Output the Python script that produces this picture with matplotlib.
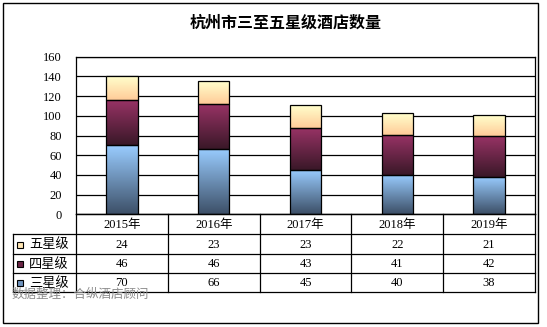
import matplotlib
matplotlib.use("Agg")
import matplotlib.pyplot as plt
import numpy as np
from matplotlib.colors import LinearSegmentedColormap
from matplotlib.patches import Rectangle

plt.rcParams['font.family'] = ['Liberation Serif', 'Noto Sans CJK SC', 'DejaVu Sans']

years = ['2015年', '2016年', '2017年', '2018年', '2019年']
three_star = [70, 66, 45, 40, 38]
four_star = [46, 46, 43, 41, 42]
five_star = [24, 23, 23, 22, 21]
series_names = ['五星级', '四星级', '三星级']
yticks = [0, 20, 40, 60, 80, 100, 120, 140, 160]

# (bottom color, top color) for each series
grad = {
    '三星级': ('#3d5068', '#99ccff'),
    '四星级': ('#3a1828', '#993366'),
    '五星级': ('#ffcc99', '#ffffcc'),
}
swatch = {'五星级': '#ffe6b3', '四星级': '#6a2545', '三星级': '#6f93bd'}

W, H = 547, 327
fig = plt.figure(figsize=(W / 100, H / 100), dpi=100)

# pixel layout
pl, pr, pt, pb = 76, 535, 56.7, 214.3
ax = fig.add_axes([pl / W, 1 - pb / H, (pr - pl) / W, (pb - pt) / H])
ax.set_xlim(-0.5, len(years) - 0.5)
ax.set_ylim(0, 160)
ax.set_yticks(yticks)
ax.set_yticklabels([str(v) for v in yticks], fontsize=9)
ax.tick_params(axis='y', length=0, pad=10)
ax.set_xticks([])
for v in yticks:
    ax.axhline(v, color='black', lw=0.9, zorder=1)
for s in ax.spines.values():
    s.set_linewidth(0.9)

x = np.arange(len(years))
bottoms = np.zeros(len(years))
for name, vals in [('三星级', three_star), ('四星级', four_star), ('五星级', five_star)]:
    bars = ax.bar(x, vals, width=0.34, bottom=bottoms, facecolor='none',
                  edgecolor='black', linewidth=0.9, zorder=3)
    cmap = LinearSegmentedColormap.from_list(name, list(grad[name]))
    for b in bars:
        x0, y0 = b.get_x(), b.get_y()
        im = ax.imshow(np.linspace(0, 1, 64).reshape(-1, 1), cmap=cmap, origin='lower',
                       extent=[x0, x0 + b.get_width(), y0, y0 + b.get_height()],
                       aspect='auto', zorder=2)
        im.set_clip_path(b)
    bottoms += np.array(vals)
ax.set_xlim(-0.5, len(years) - 0.5)
ax.set_ylim(0, 160)

# overlay in pixel coordinates
ov = fig.add_axes([0, 0, 1, 1])
ov.set_xlim(0, W)
ov.set_ylim(H, 0)
ov.axis('off')
ov.patch.set_alpha(0)

ov.add_patch(Rectangle((3.3, 3.3), 538 - 3.3, 322.7 - 3.3, fill=False, lw=1, ec='black'))
ov.text(286, 23, '杭州市三至五星级酒店数量', ha='center', va='center', fontsize=11.5,
        fontweight='bold', family=['Noto Sans CJK SC'])

colw = (pr - pl) / len(years)
rows = [214.3, 234.3, 254, 273.3, 292.3]
tl = 13.3
lw = 0.9
# horizontal lines
ov.plot([pl, pr], [rows[1] - 20, rows[1] - 20], alpha=0)
ov.plot([pl, pr], [rows[0], rows[0]], color='black', lw=lw)
for r in rows[1:]:
    ov.plot([tl, pr], [r, r], color='black', lw=lw)
# vertical lines
ov.plot([tl, tl], [rows[1], rows[4]], color='black', lw=lw)
for i in range(len(years) + 1):
    xx = pl + i * colw
    ov.plot([xx, xx], [rows[0], rows[4]], color='black', lw=lw)

for i, yr in enumerate(years):
    ov.text(pl + (i + 0.5) * colw, (rows[0] + rows[1]) / 2 + 1, yr, ha='center',
            va='center', fontsize=9)
table_rows = [('五星级', five_star), ('四星级', four_star), ('三星级', three_star)]
for j, (name, vals) in enumerate(table_rows):
    yc = (rows[j + 1] + rows[j + 2]) / 2 + 0.5
    ov.add_patch(Rectangle((17, yc - 3), 5.5, 6, fc=swatch[name], ec='black', lw=0.8))
    ov.text(29, yc, name, ha='left', va='center', fontsize=9.5,
            family=['Noto Sans CJK SC'])
    for i, v in enumerate(vals):
        ov.text(pl + (i + 0.5) * colw, yc, str(v), ha='center', va='center', fontsize=9)

ov.text(12, 294, '数据整理：合纵酒店顾问', ha='left', va='center', fontsize=9,
        color='#8c8c8c', family=['Noto Sans CJK SC'])

fig.savefig('out.png', dpi=100)
